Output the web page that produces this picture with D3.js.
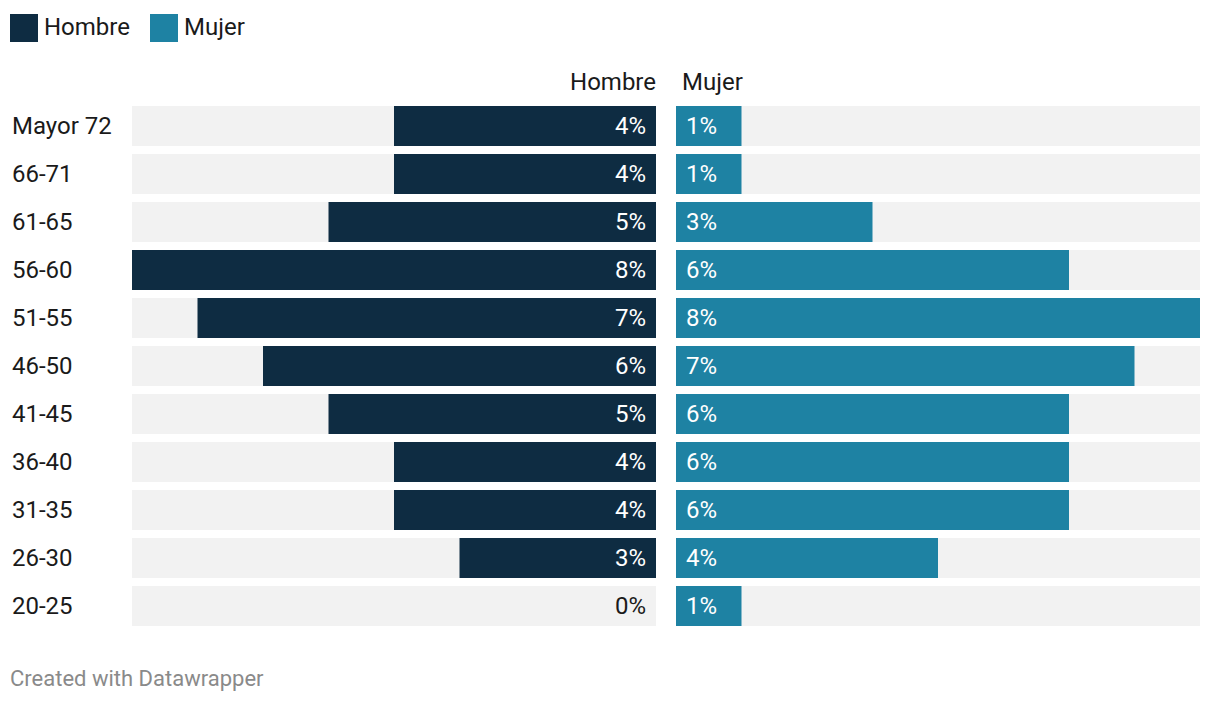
<!DOCTYPE html>
<html><head><meta charset="utf-8">
<script src="https://cdn.jsdelivr.net/npm/d3@7"></script>
<style>
body{margin:0;background:#fff;font-family:Roboto,sans-serif;}
svg{display:block;}
</style></head><body>
<svg id="chart" width="1220" height="704"></svg>
<script>
const categories = ["Mayor 72","66-71","61-65","56-60","51-55","46-50","41-45","36-40","31-35","26-30","20-25"];
const hombre = [4,4,5,8,7,6,5,4,4,3,0];
const mujer = [1,1,3,6,8,7,6,6,6,4,1];
const seriesNames = ["Hombre","Mujer"];
const colors = ["#0e2c42","#1e82a3"];

const svg = d3.select("#chart");
const font = "Roboto, sans-serif";
const fs = 24;

// legend
const leg = svg.append("g");
const legX = [10,150];
seriesNames.forEach((n,i)=>{
  leg.append("rect").attr("x",legX[i]).attr("y",14).attr("width",28).attr("height",28).attr("fill",colors[i]);
  leg.append("text").attr("x",legX[i]+34).attr("y",35).text(n)
    .attr("font-family",font).attr("font-size",fs).attr("fill","#1a1a1a");
});

const y = d3.scaleBand().domain(categories).range([106,626]).paddingInner(8/48).paddingOuter(0);
const leftX = d3.scaleLinear().domain([0,8]).range([656,132]);
const rightX = d3.scaleLinear().domain([0,8]).range([676,1200]);

// headers
svg.append("text").attr("x",656).attr("y",90).attr("text-anchor","end").text(seriesNames[0])
  .attr("font-family",font).attr("font-size",fs).attr("fill","#1a1a1a");
svg.append("text").attr("x",682).attr("y",90).text(seriesNames[1])
  .attr("font-family",font).attr("font-size",fs).attr("fill","#1a1a1a");

const rows = svg.append("g").selectAll("g").data(categories).join("g");

rows.append("text").attr("x",12).attr("y",d=>y(d)+y.bandwidth()/2).attr("dy","0.35em")
  .text(d=>d).attr("font-family",font).attr("font-size",fs).attr("fill","#1a1a1a");

// background bars
rows.append("rect").attr("x",leftX(8)).attr("y",d=>y(d)).attr("width",leftX(0)-leftX(8)).attr("height",y.bandwidth()).attr("fill","#f2f2f2");
rows.append("rect").attr("x",rightX(0)).attr("y",d=>y(d)).attr("width",rightX(8)-rightX(0)).attr("height",y.bandwidth()).attr("fill","#f2f2f2");

// value bars
rows.append("rect").attr("x",(d,i)=>leftX(hombre[i])).attr("y",d=>y(d))
  .attr("width",(d,i)=>leftX(0)-leftX(hombre[i])).attr("height",y.bandwidth()).attr("fill",colors[0]);
rows.append("rect").attr("x",rightX(0)).attr("y",d=>y(d))
  .attr("width",(d,i)=>rightX(mujer[i])-rightX(0)).attr("height",y.bandwidth()).attr("fill",colors[1]);

rows.append("text").attr("x",leftX(0)-10).attr("y",d=>y(d)+y.bandwidth()/2).attr("dy","0.35em")
  .attr("text-anchor","end").text((d,i)=>hombre[i]+"%")
  .attr("font-family",font).attr("font-size",fs).attr("fill",(d,i)=>hombre[i]>0.5?"#ffffff":"#1a1a1a");
rows.append("text").attr("x",rightX(0)+10).attr("y",d=>y(d)+y.bandwidth()/2).attr("dy","0.35em")
  .text((d,i)=>mujer[i]+"%")
  .attr("font-family",font).attr("font-size",fs).attr("fill",(d,i)=>mujer[i]>0.5?"#ffffff":"#1a1a1a");

// footer
svg.append("text").attr("x",10).attr("y",686).text("Created with Datawrapper")
  .attr("font-family",font).attr("font-size",22).attr("fill","#8a8a8a");
</script>
</body></html>
